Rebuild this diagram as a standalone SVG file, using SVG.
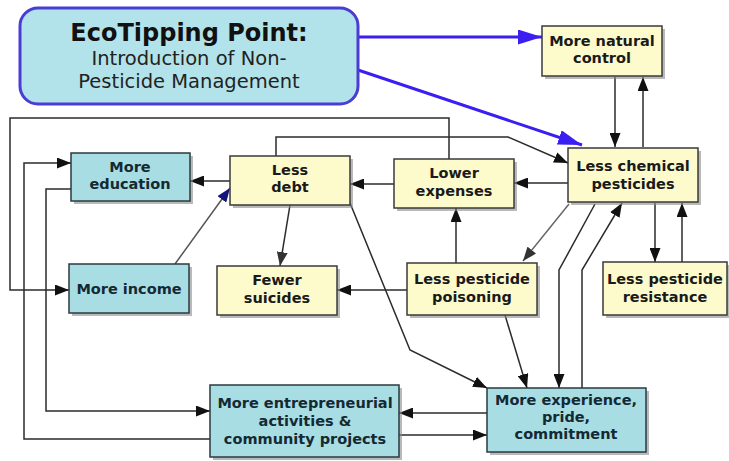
<svg xmlns="http://www.w3.org/2000/svg" width="729" height="461" viewBox="0 0 729 461">
<style>
.y{fill:#fdfbcc;stroke:#3a3a3a;stroke-width:1.5}
.c{fill:#a9dde4;stroke:#2a3a3f;stroke-width:1.5}
.sh{fill:#8a8a8a;opacity:0.6}
.t{font-family:"DejaVu Sans",Verdana,sans-serif;font-weight:bold;font-size:14.5px;fill:#1a1a1a;text-anchor:middle}
.tc{fill:#142a33}
.ln{fill:none;stroke:#2b2b2b;stroke-width:1.5}
.bl{fill:none;stroke:#3b1ff0;stroke-width:3}
</style>
<defs>
<marker id="a" viewBox="0 0 14 11" refX="14" refY="5.5" markerWidth="14" markerHeight="11" markerUnits="userSpaceOnUse" orient="auto"><path d="M0,0L14,5.5L0,11z" fill="#111"/></marker>
<marker id="ag" viewBox="0 0 14 11" refX="14" refY="5.5" markerWidth="14" markerHeight="11" markerUnits="userSpaceOnUse" orient="auto"><path d="M0,0L14,5.5L0,11z" fill="#333"/></marker>
<marker id="an" viewBox="0 0 14 11" refX="14" refY="5.5" markerWidth="14" markerHeight="11" markerUnits="userSpaceOnUse" orient="auto"><path d="M0,0L14,5.5L0,11z" fill="#14147a"/></marker>
<marker id="ab" viewBox="0 0 24 15" refX="24" refY="7.5" markerWidth="24" markerHeight="15" markerUnits="userSpaceOnUse" orient="auto"><path d="M0,0L24,7.5L0,15z" fill="#3b1ff0"/></marker>
</defs>
<rect width="729" height="461" fill="#ffffff"/>

<g id="connectors">
<line class="bl" x1="358" y1="37" x2="542" y2="37" marker-end="url(#ab)"/>
<line class="bl" x1="358" y1="70" x2="582" y2="145" marker-end="url(#ab)"/>
<line class="ln" x1="615" y1="77" x2="615" y2="147" marker-end="url(#a)"/>
<line class="ln" x1="643" y1="147" x2="643" y2="77" marker-end="url(#a)"/>
<line class="ln" x1="568" y1="183" x2="514" y2="183" marker-end="url(#a)"/>
<line class="ln" x1="655" y1="203" x2="655" y2="262" marker-end="url(#a)"/>
<line class="ln" x1="682" y1="262" x2="682" y2="203" marker-end="url(#a)"/>
<line x1="569" y1="204" x2="523" y2="261" fill="none" stroke="#666" stroke-width="1.5" marker-end="url(#ag)"/>
<line class="ln" x1="456" y1="263" x2="456" y2="208" marker-end="url(#a)"/>
<line class="ln" x1="394" y1="184" x2="350" y2="184" marker-end="url(#a)"/>
<line class="ln" x1="230" y1="181" x2="190" y2="181" marker-end="url(#a)"/>
<line class="ln" x1="407" y1="290" x2="337" y2="290" marker-end="url(#a)"/>
<line class="ln" x1="290" y1="205" x2="280" y2="266" marker-end="url(#ag)"/>
<line x1="175" y1="264" x2="230" y2="188" fill="none" stroke="#555" stroke-width="1.5" marker-end="url(#an)"/>
<polyline class="ln" points="595,204 559,270 559,388" marker-end="url(#a)"/>
<polyline class="ln" points="582,388 582,270 622,203" marker-end="url(#a)"/>
<line class="ln" x1="505" y1="315" x2="527" y2="388" marker-end="url(#a)"/>
<polyline class="ln" points="350,203 410,350 487,388" marker-end="url(#a)"/>
<line class="ln" x1="487" y1="413" x2="399" y2="413" marker-end="url(#a)"/>
<line class="ln" x1="399" y1="435" x2="487" y2="435" marker-end="url(#a)"/>
<polyline class="ln" points="449,159 449,118 10,118 10,290 69,290" marker-end="url(#a)"/>
<polyline class="ln" points="276,156 276,137 508,137 568,163" marker-end="url(#a)"/>
<polyline class="ln" points="210,439 24,439 24,163 71,163" marker-end="url(#a)"/>
<polyline class="ln" points="71,189 46,189 46,411 210,411" marker-end="url(#a)"/>
</g>

<g id="eco">
<rect x="20" y="8" width="338" height="96" rx="18" fill="#b3e3ea" stroke="#4a3cd4" stroke-width="3"/>
<text x="189" y="41" font-family="DejaVu Sans,Verdana,sans-serif" font-weight="bold" font-size="24" fill="#111" text-anchor="middle">EcoTipping Point:</text>
<text x="189" y="65" font-family="DejaVu Sans,Verdana,sans-serif" font-size="19.5" fill="#222" text-anchor="middle">Introduction of Non-</text>
<text x="189" y="88" font-family="DejaVu Sans,Verdana,sans-serif" font-size="19.5" fill="#222" text-anchor="middle">Pesticide Management</text>
</g>

<g id="natural">
<rect class="sh" x="545" y="29" width="120" height="50"/>
<rect class="y" x="542" y="26" width="120" height="50"/>
<text class="t" x="602" y="46">More natural</text>
<text class="t" x="602" y="63">control</text>
</g>

<g id="chemical">
<rect class="sh" x="571" y="151" width="130" height="54"/>
<rect class="y" x="568" y="148" width="130" height="54"/>
<text class="t" x="633" y="171" font-size="15">Less chemical</text>
<text class="t" x="633" y="189" font-size="15">pesticides</text>
</g>

<g id="expenses">
<rect class="sh" x="397" y="162" width="120" height="49"/>
<rect class="y" x="394" y="159" width="120" height="49"/>
<text class="t" x="454" y="178">Lower</text>
<text class="t" x="454" y="196">expenses</text>
</g>

<g id="debt">
<rect class="sh" x="233" y="159" width="120" height="49"/>
<rect class="y" x="230" y="156" width="120" height="49"/>
<text class="t" x="290" y="175">Less</text>
<text class="t" x="290" y="192">debt</text>
</g>

<g id="education">
<rect class="sh" x="74" y="156" width="119" height="48"/>
<rect class="c" x="71" y="153" width="119" height="48" stroke-width="2.5" stroke="#111"/>
<text class="t tc" x="130" y="172">More</text>
<text class="t tc" x="130" y="189">education</text>
</g>

<g id="income">
<rect class="sh" x="72" y="267" width="120" height="49"/>
<rect class="c" x="69" y="264" width="120" height="49"/>
<text class="t tc" x="129" y="294">More income</text>
</g>

<g id="suicides">
<rect class="sh" x="220" y="269" width="120" height="49"/>
<rect class="y" x="217" y="266" width="120" height="49"/>
<text class="t" x="277" y="285">Fewer</text>
<text class="t" x="277" y="303">suicides</text>
</g>

<g id="poisoning">
<rect class="sh" x="410" y="266" width="130" height="52"/>
<rect class="y" x="407" y="263" width="130" height="52"/>
<text class="t" x="472" y="284">Less pesticide</text>
<text class="t" x="472" y="302">poisoning</text>
</g>

<g id="resistance">
<rect class="sh" x="606" y="265" width="124" height="53"/>
<rect class="y" x="603" y="262" width="124" height="53"/>
<text class="t" x="665" y="284">Less pesticide</text>
<text class="t" x="665" y="302">resistance</text>
</g>

<g id="entrepreneurial">
<rect class="sh" x="213" y="388" width="189" height="72"/>
<rect class="c" x="210" y="385" width="189" height="72"/>
<text class="t tc" x="305" y="408" font-size="15">More entrepreneurial</text>
<text class="t tc" x="305" y="426" font-size="15">activities &amp;</text>
<text class="t tc" x="305" y="444" font-size="15">community projects</text>
</g>

<g id="experience">
<rect class="sh" x="490" y="391" width="159" height="64"/>
<rect class="c" x="487" y="388" width="159" height="64"/>
<text class="t tc" x="566" y="405" font-size="15">More experience,</text>
<text class="t tc" x="566" y="422" font-size="15">pride,</text>
<text class="t tc" x="566" y="439" font-size="15">commitment</text>
</g>
</svg>
